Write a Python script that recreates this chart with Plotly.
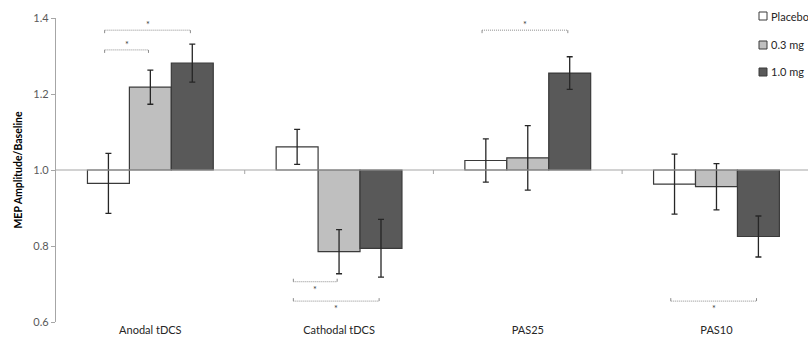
import plotly.graph_objects as go

categories = ["Anodal tDCS", "Cathodal tDCS", "PAS25", "PAS10"]
series_names = ["Placebo", "0.3 mg", "1.0 mg"]
placebo = [0.965, 1.061, 1.025, 0.963]
placebo_err = [0.079, 0.046, 0.057, 0.079]
mg03 = [1.218, 0.785, 1.032, 0.956]
mg03_err = [0.045, 0.058, 0.085, 0.061]
mg10 = [1.281, 0.794, 1.255, 0.825]
mg10_err = [0.050, 0.076, 0.043, 0.054]
y_ticks = [0.6, 0.8, 1.0, 1.2, 1.4]
baseline = 1.0
# significance brackets: (category index, series from, series to, level)
brackets = [
    (0, 0, 2, 1.368),
    (0, 0, 1, 1.316),
    (1, 0, 1, 0.706),
    (1, 0, 2, 0.655),
    (2, 0, 2, 1.368),
    (3, 0, 2, 0.655),
]

values = [placebo, mg03, mg10]
errors = [placebo_err, mg03_err, mg10_err]
fills = ["#ffffff", "#bfbfbf", "#595959"]
FONT = "Lato"

W, H = 808, 345
ML, MR, MT, MB = 56, 0, 18, 23
xr = [-0.5, 3.485]
yr = [0.6, 1.4]
px_y = (yr[1] - yr[0]) / (H - MT - MB)

bar_w = 2 / 9
offsets = [-bar_w, 0, bar_w]

fig = go.Figure()
x_idx = list(range(len(categories)))
for k in range(3):
    fig.add_trace(go.Bar(
        x=x_idx,
        y=[v - baseline for v in values[k]],
        base=baseline,
        name=series_names[k],
        offsetgroup=str(k),
        marker=dict(color=fills[k], line=dict(color="#3a3a3a", width=1.2)),
        error_y=dict(type="data", array=errors[k], visible=True,
                     color="#262626", thickness=1.3, width=3),
        showlegend=False,
    ))

shapes = []
# baseline line
shapes.append(dict(type="line", xref="paper", yref="y", x0=0, x1=1,
                   y0=baseline, y1=baseline, line=dict(color="#a6a6a6", width=1.2)))
# category boundary ticks
for b in [0.5, 1.5, 2.5]:
    shapes.append(dict(type="line", xref="x", yref="y", x0=b, x1=b,
                       y0=baseline, y1=baseline - 4 * px_y,
                       line=dict(color="#a6a6a6", width=1)))

annotations = []
for cat, s0, s1, lvl in brackets:
    xa = cat + offsets[s0] - 0.02
    xb = cat + offsets[s1] - 0.01
    up = lvl > baseline
    d = -3 * px_y if up else 3 * px_y
    style = dict(color="#8c8c8c", width=1, dash="1px,1px")
    shapes.append(dict(type="line", xref="x", yref="y", x0=xa, x1=xb, y0=lvl, y1=lvl, line=style))
    shapes.append(dict(type="line", xref="x", yref="y", x0=xa, x1=xa, y0=lvl, y1=lvl + d,
                       line=dict(color="#8c8c8c", width=1)))
    shapes.append(dict(type="line", xref="x", yref="y", x0=xb, x1=xb, y0=lvl, y1=lvl + d,
                       line=dict(color="#8c8c8c", width=1)))
    annotations.append(dict(x=(xa + xb) / 2, y=lvl, xref="x", yref="y", text="*",
                            showarrow=False, font=dict(family=FONT, size=9, color="#404040"),
                            yanchor="bottom" if up else "top", yshift=-2 if up else 0))

# manual legend
plot_w = W - ML - MR
def px2paper_x(px):
    return (px - ML) / plot_w
def px2paper_y(py):
    return 1 - (py - MT) / (H - MT - MB)

leg_y = [16, 45, 72]
for k in range(3):
    cy = leg_y[k]
    shapes.append(dict(type="rect", xref="paper", yref="paper",
                       x0=px2paper_x(759), x1=px2paper_x(767),
                       y0=px2paper_y(cy + 4), y1=px2paper_y(cy - 4),
                       fillcolor=fills[k], line=dict(color="#3a3a3a", width=1)))
    annotations.append(dict(x=px2paper_x(769), y=px2paper_y(cy), xref="paper", yref="paper",
                            text=series_names[k], showarrow=False, xanchor="left", yanchor="middle",
                            font=dict(family=FONT, size=11, color="#262626")))

fig.update_layout(
    width=W, height=H,
    margin=dict(l=ML, r=MR, t=MT, b=MB),
    plot_bgcolor="white", paper_bgcolor="white",
    barmode="group", bargap=1/3, bargroupgap=0,
    shapes=shapes, annotations=annotations,
    font=dict(family=FONT),
    xaxis=dict(range=xr, tickvals=x_idx, ticktext=categories, showline=False,
               showgrid=False, zeroline=False, ticks="",
               tickfont=dict(family=FONT, size=11, color="#262626")),
    yaxis=dict(range=yr, tickvals=y_ticks, tickformat=".1f", showline=True,
               linecolor="#a6a6a6", linewidth=1.2, ticks="outside", ticklen=4,
               tickcolor="#a6a6a6", showgrid=False, zeroline=False,
               tickfont=dict(family=FONT, size=11, color="#595959"),
               title=dict(text="<b>MEP Amplitude/Baseline</b>", standoff=8,
                          font=dict(family=FONT, size=10.5, color="#000000"))),
)

fig.write_html("out.html")
